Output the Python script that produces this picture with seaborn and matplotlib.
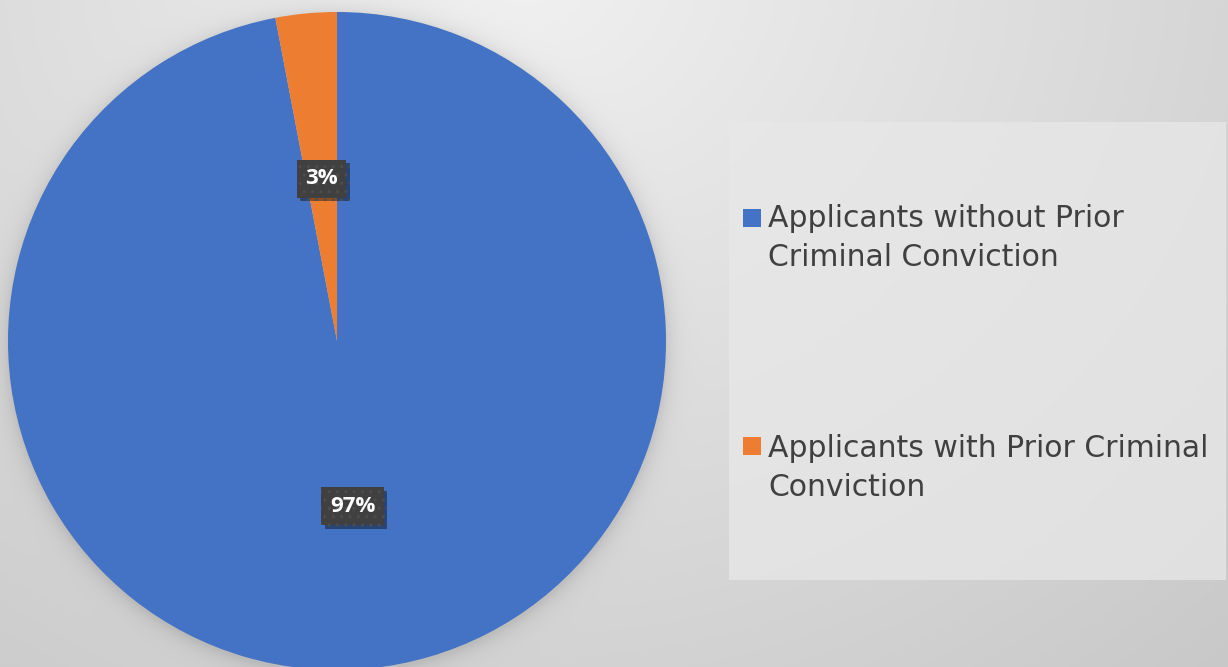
import numpy as np
import matplotlib
matplotlib.use("Agg")
import matplotlib.pyplot as plt
import matplotlib.patheffects as pe
from matplotlib.patches import Rectangle
import seaborn as sns

# ---- data ----
categories = ["Applicants without Prior\nCriminal Conviction",
              "Applicants with Prior Criminal\nConviction"]
shares = [97, 3]
pct_labels = ["97%", "3%"]

sns.set_theme(style="white")
plt.rcParams["font.family"] = ["DejaVu Sans"]
colors = ["#4472C4", "#ED7D31"]

W, H = 1228, 667
fig = plt.figure(figsize=(W / 100, H / 100), dpi=100)

def fx(x):
    return x / W

def fy(y):
    return 1 - y / H

cx, cy, r = 337, 341, 329

# ---- background gradient + soft pie shadow ----
bg = fig.add_axes([0, 0, 1, 1])
yy, xx = np.mgrid[0:H, 0:W]
d = np.sqrt((xx - 520) ** 2 + ((yy + 40) / 0.9) ** 2)
d = d / d.max()
val = 0.945 - 0.16 * d
dp = np.sqrt((xx - cx) ** 2 + (yy - cy - 2) ** 2)
shadow = np.where(dp > r, 0.09 * np.exp(-(dp - r) / 9.0), 0.09)
val = val - shadow
bg.imshow(np.dstack([val, val, val]), extent=[0, W, H, 0], aspect="auto")
bg.set_xlim(0, W)
bg.set_ylim(H, 0)
bg.axis("off")

# legend panel
bg.add_patch(Rectangle((729, 122), 497, 458, facecolor="#e8e8e8", edgecolor="none", alpha=0.75))

# ---- pie ----
ax = fig.add_axes([fx(cx - r), fy(cy + r), 2 * r / W, 2 * r / H])
wedges = ax.pie(shares, colors=colors, startangle=90, counterclock=False,
                radius=1.0, wedgeprops=dict(linewidth=0))[0]
for lab, w in zip(pct_labels, wedges):
    a = np.deg2rad((w.theta1 + w.theta2) / 2)
    t = ax.text(0.5 * np.cos(a), 0.5 * np.sin(a) - 0.005, lab, ha="center", va="center",
                color="white", fontsize=16, fontweight="bold",
                family=["Open Sans", "DejaVu Sans"], zorder=5,
                bbox=dict(boxstyle="square,pad=0.38", facecolor="#404040",
                          edgecolor="#4d4d4d", linewidth=0, hatch=".."))
    t.get_bbox_patch().set_path_effects([
        pe.SimplePatchShadow(offset=(2.5, -2.5), shadow_rgbFace="black", alpha=0.4),
        pe.Normal()])
ax.set_xlim(-1, 1)
ax.set_ylim(-1, 1)
ax.set_aspect("equal")
ax.axis("off")

# ---- legend ----
square_tops = [209, 437]
first_baselines = [227, 457]
line_step = 39
for lab, col, top, base in zip(categories, colors, square_tops, first_baselines):
    bg.add_patch(Rectangle((743, top), 18, 18, facecolor=col, edgecolor="none"))
    for i, line in enumerate(lab.split("\n")):
        bg.text(768, base + i * line_step, line, ha="left", va="baseline",
                fontsize=21.5, color="#404040")

fig.savefig("out.png", dpi=100)
